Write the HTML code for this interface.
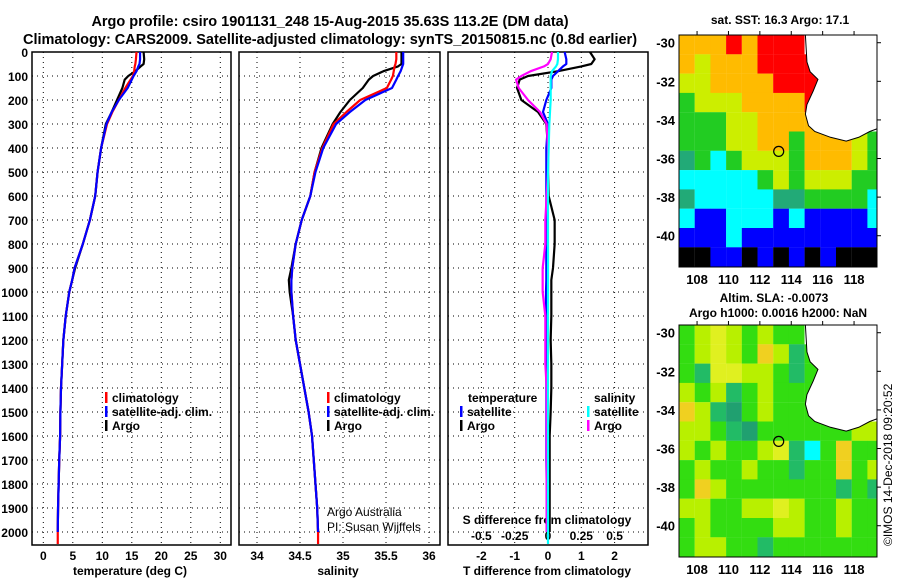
<!DOCTYPE html>
<html><head><meta charset="utf-8"><style>
body{margin:0;background:#fff}
svg{display:block;font-family:"Liberation Sans",sans-serif;font-weight:bold}
</style></head><body>
<svg id="c" width="900" height="580" viewBox="0 0 900 580" xmlns="http://www.w3.org/2000/svg">
<rect width="900" height="580" fill="#fff"/>
<text x="330" y="26" font-size="14.5" text-anchor="middle">Argo profile: csiro 1901131_248 15-Aug-2015 35.63S 113.2E (DM data)</text>
<text x="330" y="44" font-size="14.5" text-anchor="middle">Climatology: CARS2009. Satellite-adjusted climatology: synTS_20150815.nc (0.8d earlier)</text>
<text x="780" y="24" font-size="12" text-anchor="middle">sat. SST: 16.3 Argo: 17.1</text>
<text x="774" y="302" font-size="12" text-anchor="middle">Altim. SLA: -0.0073</text>
<text x="778" y="317" font-size="12" text-anchor="middle">Argo h1000: 0.0016 h2000: NaN</text>
<text transform="translate(892,546) rotate(-90)" font-size="12" font-weight="normal">©IMOS 14-Dec-2018 09:20:52</text>
<g id="g"></g>
</svg>
<script>
// depth levels (dbar)
const depths=[0,30,50,60,80,100,115,150,200,250,300,400,500,600,700,800,900,950,1000,1100,1200,1300,1400,1500,1600,1700,1800,1900,2000];
const tempArgo=[17.0,17.1,17.0,16.5,15.6,14.4,13.8,13.4,12.5,11.6,10.6,9.8,9.2,8.8,7.9,6.7,5.4,4.9,4.4,3.8,3.4,3.2,3.0,2.9,2.85,2.7,2.6,2.5,2.45];
const tempClim=[15.8,15.7,15.6,15.5,15.4,15.2,14.8,13.9,12.8,11.7,10.8,9.8,9.2,8.8,7.9,6.7,5.3,4.9,4.4,3.8,3.4,3.2,3.0,2.9,2.85,2.7,2.6,2.5,2.45];
const tempSat=[16.4,16.4,16.3,16.1,15.8,15.3,15.0,14.3,12.8,11.6,10.7,9.8,9.2,8.8,7.9,6.7,5.3,4.9,4.4,3.8,3.4,3.2,3.0,2.9,2.85,2.7,2.6,2.5,2.45];
const salArgo=[35.68,35.68,35.68,35.64,35.47,35.35,35.30,35.23,35.08,34.97,34.88,34.75,34.67,34.62,34.52,34.45,34.40,34.37,34.38,34.42,34.45,34.50,34.55,34.60,34.64,34.66,34.68,34.70,34.71];
const salClim=[35.62,35.62,35.61,35.60,35.59,35.58,35.56,35.51,35.20,35.04,34.89,34.76,34.67,34.62,34.52,34.45,34.41,34.40,34.40,34.42,34.45,34.50,34.55,34.60,34.64,34.66,34.68,34.70,34.71];
const salSat=[35.70,35.70,35.70,35.69,35.67,35.64,35.62,35.57,35.26,35.08,34.92,34.77,34.68,34.62,34.52,34.45,34.41,34.40,34.40,34.42,34.45,34.50,34.55,34.60,34.64,34.66,34.68,34.70,34.71];
const dTArgo=[1.26,1.4,1.3,1.0,0.3,-0.6,-0.85,-0.93,-0.8,-0.3,-0.05,0,0,0.02,0.2,0.2,0.15,0.1,0.1,0.1,0.08,0.1,0.1,0.08,0.05,0.05,0.05,0.05,0.05];
const dTSat=[0.5,0.55,0.55,0.45,0.3,0.15,0.1,0.1,-0.05,-0.15,0,-0.05,-0.05,-0.05,-0.05,-0.05,-0.05,-0.05,-0.06,-0.06,-0.06,-0.05,-0.05,-0.05,-0.05,-0.05,-0.04,-0.04,-0.04];
const dSArgo=[0.03,0.02,0,-0.03,-0.13,-0.2,-0.24,-0.22,-0.15,-0.06,-0.01,0,0,-0.01,-0.02,-0.02,-0.04,-0.04,-0.04,-0.02,-0.02,-0.02,-0.01,-0.01,-0.01,-0.01,-0.01,-0.01,-0.01];
const dSSat=[0.075,0.075,0.07,0.06,0.03,0.02,0.02,0.02,0.02,0.015,0.01,0.005,0,0,0,0,0,0,0,0,0,0,0,0,0,0,0,0,0];
const depthTicks=[0,100,200,300,400,500,600,700,800,900,1000,1100,1200,1300,1400,1500,1600,1700,1800,1900,2000];
const tTicks=[0,5,10,15,20,25,30];
const sTicks=[34,34.5,35,35.5,36];
const dTTicks=[-2,-1,0,1,2];
const dSTickLabels=["-0.5","-0.25","0","0.25","0.5"];
const latTicks=[-30,-32,-34,-36,-38,-40];
const lonTicks=[108,110,112,114,116,118];
const argoLon=113.2, argoLat=-35.63;
// map grids: rows lat -30..-41, cols lon 107..119
const sstGrid=["OOORORRRWWWWW","OYOOORRRRWWWW","YYOOOORRRWWWW","GYYYOOOORWWWW","GGGYYOOOOWWWW","GGGYYOOGOOOYG","TGCGYYYGOOOYG","CCCCCGYGYYYGG","TCCCCCTTGGGGC","CBBCCCBCBBBBC","BBBCBBBBBBBBB","KKBBKBKBKBKKK"];
const slaGrid=["GLYLGLGGWWWWW","GLYLGOLTGWWWW","GTYYLLGTGWWWW","LGLTGLGGGWWWW","OLTDGLGGGWWWW","LLGTDGGGGGGLL","LGLGGLYTCGOGG","GLGGLGGTGGOGL","GOLGGGGGGGTGT","LLGGLLYLGGLGG","GLGGGGLLGGLGG","GLLGGTGGGGGGG"];
const coastLon=[114.9,115.0,115.2,115.7,115.4,115.0,114.9,115.1,115.5,116.5,117.5,118.3,119.0,119.5];
const coastLat=[-29.6,-31.0,-31.5,-31.9,-32.5,-33.2,-33.7,-34.3,-34.6,-34.9,-35.1,-34.9,-34.6,-34.45];

const NS='http://www.w3.org/2000/svg', G=document.getElementById('g');
function el(t,a,p){const e=document.createElementNS(NS,t);for(const k in a)e.setAttribute(k,a[k]);(p||G).appendChild(e);return e;}
function txt(x,y,s,a,size,anchor,w){const e=el('text',{x:x,y:y,'font-size':size||12,'text-anchor':anchor||'middle'});if(w)e.setAttribute('font-weight',w);e.textContent=s;return e;}
const yD=d=>52+d*0.24, Y0=52, Y1=545;
const panels=[{x0:32,x1:231,f:v=>43.3+v*5.9},{x0:239,x1:440,f:v=>257+(v-34)*86},{x0:448,x1:648,f:v=>548+v*33.3}];
const fS=v=>548+v*133.2;
panels.forEach((p,i)=>{
  const pg=el('g',{});
  depthTicks.forEach(d=>{const l=el('line',{x1:p.x0,x2:p.x1,y1:yD(d),y2:yD(d),stroke:'#000','stroke-dasharray':'1,4'},pg);});
  const vt=i==0?tTicks:i==1?sTicks:dTTicks;
  vt.forEach(v=>{const x=p.f(v);const l=el('line',{x1:x,x2:x,y1:Y0,y2:Y1,stroke:'#000','stroke-dasharray':'1,4'},pg);
    txt(x,560,String(v),'x-tick-label');});
  const r=el('rect',{x:p.x0,y:Y0,width:p.x1-p.x0,height:Y1-Y0,fill:'none',stroke:'#000','stroke-width':1.5},pg);
});
depthTicks.forEach(d=>txt(28,yD(d)+5,String(d),'depth-tick-label',12,'end'));
txt(130,575,'temperature (deg C)','x-axis-title-temperature');
txt(338,575,'salinity','x-axis-title-salinity');
txt(547,575,'T difference from climatology','x-axis-title-t-diff');
txt(547,524,'S difference from climatology','s-diff-axis-title');
dSTickLabels.forEach((s,i)=>txt(fS([-0.5,-0.25,0,0.25,0.5][i]),540,s,'s-diff-tick-label'));
function line(vals,fx,col,name,extra){
  let pts=vals.map((v,i)=>fx(v)+','+yD(depths[i]));
  if(extra)pts.push(fx(vals[vals.length-1])+','+yD(depths[depths.length-1]+extra));
  const e=el('polyline',{points:pts.join(' '),fill:'none',stroke:col,'stroke-width':2.2,'stroke-linejoin':'round'});
  }
const p1=panels[0].f,p2=panels[1].f,p3=panels[2].f;
line(tempArgo,p1,'#000','temp-argo-line');line(tempClim,p1,'#f00','temp-clim-line',50);line(tempSat,p1,'#00f','temp-sat-line');
line(salArgo,p2,'#000','sal-argo-line');line(salClim,p2,'#f00','sal-clim-line',50);line(salSat,p2,'#00f','sal-sat-line');
line(dTArgo,p3,'#000','tdiff-argo-line');line(dTSat,p3,'#00f','tdiff-sat-line');line(dSArgo,fS,'#f0f','sdiff-argo-line');line(dSSat,fS,'#0ff','sdiff-sat-line',50);
function leg(x,y,col,label,name){const r=el('rect',{x:x,y:y-10,width:2.5,height:11,fill:col});txt(x+7,y,label,name,12,'start');}
[[105,0],[327,1]].forEach(([x,k])=>{leg(x,402,'#f00','climatology','legend-climatology');leg(x,416,'#00f','satellite-adj. clim.','legend-satellite-adj');leg(x,430,'#000','Argo','legend-argo');});
txt(468,402,'temperature','legend-temperature-header',12,'start');
leg(460,416,'#00f','satellite','legend-t-satellite');leg(460,430,'#000','Argo','legend-t-argo');
txt(594,402,'salinity','legend-salinity-header',12,'start');
leg(587,416,'#0ff','satellite','legend-s-satellite');leg(587,430,'#f0f','Argo','legend-s-argo');
txt(327,516,'Argo Australia','credit-argo-australia',12,'start','normal');
txt(327,531,'PI: Susan Wijffels','credit-pi',12,'start','normal');
// maps
const COL={R:'#ff0000',O:'#ffbb00',Y:'#ccee00',G:'#22cc22',T:'#22aa77',C:'#00ffff',B:'#0000ff',K:'#000000',W:'#ffffff',L:'#aaee00',D:'#229966'};
const COL2={G:'#33dd11',L:'#b8f000',Y:'#e0f020',O:'#f0d020',T:'#22bb66',D:'#20a070',C:'#00ffff',W:'#ffffff'};
const mx=lon=>679+(lon-106.85)*15.7;
function drawMap(grid,cols,off,name){
  const my=lat=>35+off+(-29.6-lat)*19.3;
  const mg=el('g',{});
  const cp=el('clipPath',{id:'cp'+off},mg);el('rect',{x:679,y:35+off,width:198,height:232},cp);
  const cg=el('g',{'clip-path':'url(#cp'+off+')'},mg);
  grid.forEach((row,r)=>{[...row].forEach((c,k)=>{
    const e=el('rect',{x:mx(106.85+k),y:my(-29.6-r),width:15.8,height:19.4,fill:cols[c]},cg);
    });});
  let pts=coastLon.map((l,i)=>mx(l)+','+my(coastLat[i]));
  const land=el('polygon',{points:pts.join(' ')+' '+mx(119.6)+','+my(-29.5),fill:'#fff',stroke:'none'},cg);
  const cl=el('polyline',{points:pts.join(' '),fill:'none',stroke:'#000','stroke-width':1},cg);
  const ci=el('circle',{cx:mx(argoLon),cy:my(argoLat),r:5,fill:'none',stroke:'#000','stroke-width':1.2},mg);
  const fr=el('rect',{x:679,y:35+off,width:198,height:232,fill:'none',stroke:'#000'},mg);
  latTicks.forEach(l=>{txt(675,my(l)+5,String(l),'lat-tick-label',13,'end');el('line',{x1:877,x2:881,y1:my(l),y2:my(l),stroke:'#000'},mg);});
  lonTicks.forEach(l=>{txt(mx(l),off+284,String(l),'lon-tick-label',13,'middle');el('line',{x1:mx(l),x2:mx(l),y1:35+off,y2:31+off,stroke:'#000'},mg);});
}
drawMap(sstGrid,COL,0,'sst-map');
drawMap(slaGrid,COL2,290,'sla-map');
</script>
</body></html>
